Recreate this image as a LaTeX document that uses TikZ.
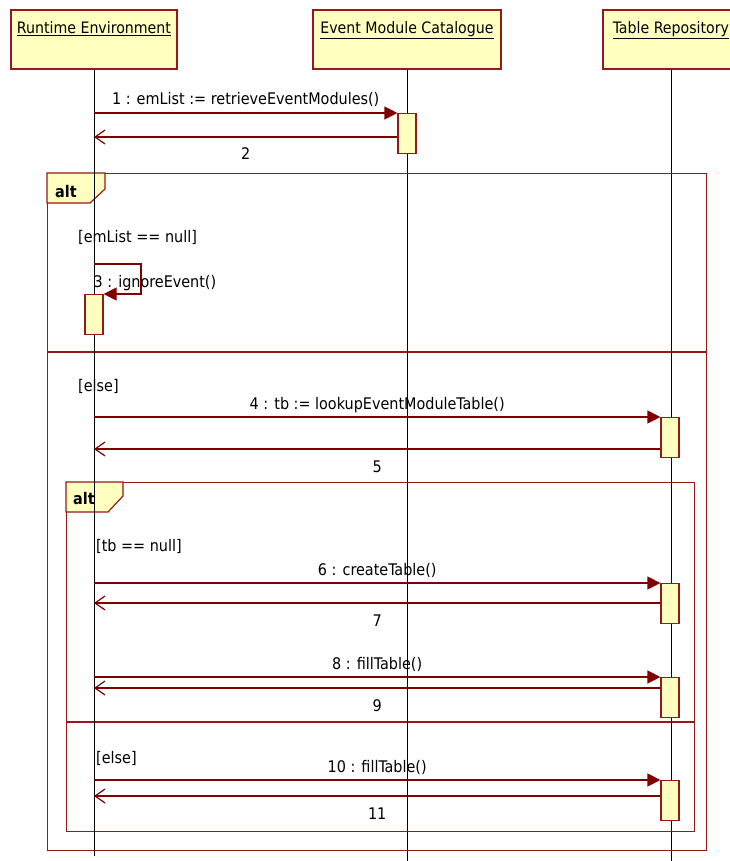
\documentclass[tikz,border=0pt]{standalone}
\usepackage{fontspec}
\setmainfont{DejaVu Sans Condensed}
\usetikzlibrary{arrows.meta, calc, positioning}
\definecolor{umlred}{RGB}{128,0,0}
\definecolor{umlborder}{RGB}{150,24,24}
\definecolor{umlfill}{RGB}{255,255,192}
\tikzstyle{head} = [rectangle, draw=umlborder, fill=umlfill, line width=1.2pt, inner ysep=11pt, text height=13pt, text depth=24pt, font=\fontsize{15.75}{18}\selectfont]
\tikzstyle{act} = [rectangle, draw=umlborder, fill=umlfill, line width=1.2pt, minimum width=18pt, minimum height=40pt, inner sep=0pt, anchor=north]
\tikzstyle{life} = [black, line width=1pt]
\tikzstyle{call} = [umlred, line width=1.2pt, -{Triangle[length=13pt,width=13pt]}]
\tikzstyle{ret} = [umlred, line width=1.2pt, -{Straight Barb[length=10pt,width=14pt]}]
\tikzstyle{frame} = [rectangle, draw=umlborder, line width=1.2pt, anchor=north west, inner sep=0pt]
\tikzstyle{tab} = [draw=umlborder, fill=umlfill, line width=1.2pt]
\tikzstyle{lbl} = [text=black, font=\fontsize{16}{19}\selectfont, inner sep=0pt]
\tikzstyle{calllbl} = [lbl, midway, anchor=base, yshift=8pt]
\tikzstyle{retlbl} = [lbl, midway, anchor=base, yshift=-23pt]

\begin{document}
\begin{tikzpicture}[x=1pt, y=-1pt]
    \useasboundingbox (0,0) rectangle (729,861);

    % lifeline heads
    \node (re) [head, minimum width=166pt] at (94,39.5) {\underline{Runtime Environment}};
    \node (emc) [head, minimum width=188pt] at (407,39.5) {\underline{Event Module Catalogue}};
    \node (tr) [head, minimum width=136pt] at (671,39.5) {\underline{Table Repository}};

    % combined fragments
    \node (alt1) [frame, minimum width=659pt, minimum height=677pt] at (47,173) {};
    \draw [tab] (alt1.north west) -- ++(58,0) -- ++(0,16) -- ++(-15,14) -- ++(-43,0) -- cycle;
    \node (alt1lbl) [lbl, anchor=base west, font=\fontsize{16}{19}\selectfont\bfseries] at (55,197) {alt};
    \draw [umlborder, line width=1.2pt] (alt1.west |- 0,352) -- (alt1.east |- 0,352);
    \node (g1) [lbl, anchor=base west] at (78,242) {[emList == null]};
    \node (g2) [lbl, anchor=base west] at (78,391) {[else]};

    \node (alt2) [frame, minimum width=628pt, minimum height=349pt] at (66,482) {};
    \draw [tab] (alt2.north west) -- ++(57,0) -- ++(0,14) -- ++(-15,16) -- ++(-42,0) -- cycle;
    \node (alt2lbl) [lbl, anchor=base west, font=\fontsize{16}{19}\selectfont\bfseries] at (73,504) {alt};
    \draw [umlborder, line width=1.2pt] (alt2.west |- 0,722) -- (alt2.east |- 0,722);
    \node (g3) [lbl, anchor=base west] at (96,551) {[tb == null]};
    \node (g4) [lbl, anchor=base west] at (96,763) {[else]};

    % lifelines
    \draw [life] (re.south) -- ++(0,786);
    \draw [life] (emc.south) -- ++(0,792);
    \draw [life] (tr.south) -- ++(0,792);

    % activations
    \node (a1) [act] at (407,113) {};
    \node (a3) [act] at (94,294) {};
    \node (a4) [act] at (670,417) {};
    \node (a6) [act] at (670,583) {};
    \node (a8) [act] at (670,677) {};
    \node (a10) [act] at (670,780) {};

    % messages
    \draw [call] (a1.north west -| re.south) -- node[calllbl]{1 : emList := retrieveEventModules()} (a1.north west);
    \draw [ret] ($(a1.north west)+(0,24)$) coordinate (r2) -- (r2 -| re.south) node[retlbl]{2};

    \draw [call] ($(a3.north)+(0,-30)$) node[lbl, anchor=base west, xshift=-1pt, yshift=-23pt]{3 : ignoreEvent()} -- ++(47,0) |- (a3.north east);

    \draw [call] (a4.north west -| re.south) -- node[calllbl]{4 : tb := lookupEventModuleTable()} (a4.north west);
    \draw [ret] ($(a4.north west)+(0,32)$) coordinate (r5) -- (r5 -| re.south) node[retlbl]{5};

    \draw [call] (a6.north west -| re.south) -- node[calllbl]{6 : createTable()} (a6.north west);
    \draw [ret] ($(a6.north west)+(0,20)$) coordinate (r7) -- (r7 -| re.south) node[retlbl]{7};

    \draw [call] (a8.north west -| re.south) -- node[calllbl]{8 : fillTable()} (a8.north west);
    \draw [ret] ($(a8.north west)+(0,11)$) coordinate (r9) -- (r9 -| re.south) node[retlbl]{9};

    \draw [call] (a10.north west -| re.south) -- node[calllbl]{10 : fillTable()} (a10.north west);
    \draw [ret] ($(a10.north west)+(0,16)$) coordinate (r11) -- (r11 -| re.south) node[retlbl]{11};
\end{tikzpicture}
\end{document}
